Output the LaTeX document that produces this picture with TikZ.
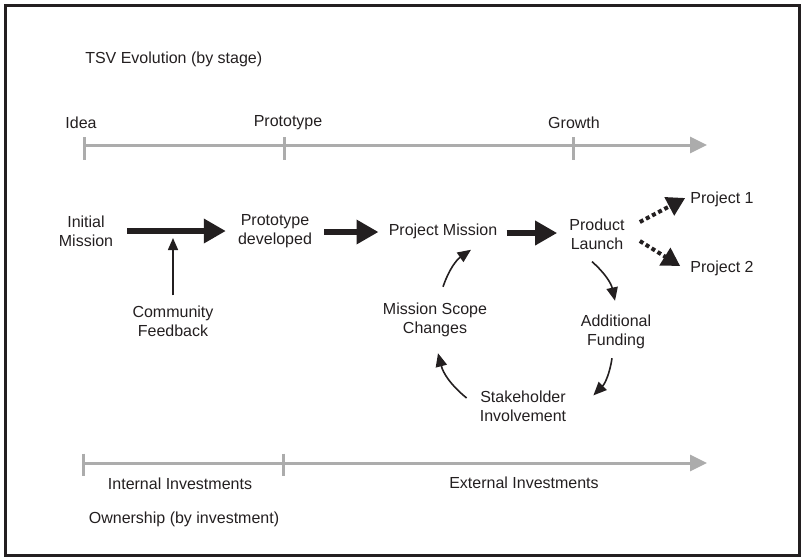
\documentclass[tikz,border=0pt]{standalone}
\usepackage{fontspec}
\setmainfont{Liberation Sans}
\usetikzlibrary{arrows.meta,calc}
\definecolor{tl}{RGB}{172,172,172}
\definecolor{ink}{RGB}{35,31,32}
\begin{document}
\begin{tikzpicture}[x=0.75pt,y=-0.75pt,
  lbl/.style={inner sep=0pt, align=center, font=\fontsize{12pt}{14.25pt}\selectfont, text=ink},
  bigarrow/.style={draw=ink, line width=4.5pt, -{Triangle[length=16.5pt,width=17.5pt]}},
  dotarrow/.style={draw=ink, line width=3pt, dash pattern=on 3pt off 2.2pt, -{Triangle[length=13.5pt,width=15pt]}},
  thinarrow/.style={draw=ink, line width=1.2pt, -{Triangle[length=9pt,width=7.5pt]}},
  cyclearrow/.style={draw=ink, line width=1.2pt, -{Triangle[length=10pt,width=8.5pt]}},
  timeline/.style={draw=tl, line width=2.25pt, -{Triangle[length=12.75pt,width=12pt]}},
  tick/.style={draw=tl, line width=2.25pt},
  frame/.style={draw=ink, line width=2.25pt}
]
\useasboundingbox (0,0) rectangle (805,558);
\draw[frame] (5,5.5) rectangle (799,555.5);

% top timeline
\node[lbl, anchor=west] (title) at (85,59) {TSV Evolution (by stage)};
\node[lbl] (idea) at (81,123) {Idea};
\node[lbl] (proto) at (288,123) {Prototype};
\node[lbl] (growth) at (574,123) {Growth};
\coordinate (t0) at (84,145);
\coordinate (t1) at (284,145);
\coordinate (t2) at (573,145);
\coordinate (tend) at (707,145);
\draw[timeline] (t0) -- (tend);
\foreach \c in {t0,t1,t2} \draw[tick] ([yshift=6pt]\c) -- ([yshift=-11pt]\c);

% main row
\node[lbl] (im) at (86,231) {Initial\\Mission};
\node[lbl] (pd) at (275,231) {Prototype\\developed};
\node[lbl] (pm) at (443,231) {Project Mission};
\node[lbl] (pl) at (597,234) {Product\\Launch};
\node[lbl] (p1) at (722,199) {Project 1};
\node[lbl] (p2) at (722,268) {Project 2};
\node[lbl] (cf) at (173,321) {Community\\Feedback};
\node[lbl] (ms) at (435,320) {Mission Scope\\Changes};
\node[lbl] (af) at (616,332) {Additional\\Funding};
\node[lbl] (si) at (523,406) {Stakeholder\\Involvement};

\draw[bigarrow] ($(im.east)+(14,0)$) -- ($(pd.west)+(-12,0)$);
\draw[bigarrow] ($(pd.east)+(12,1)$) -- ($(pm.west)+(-10,1)$);
\coordinate (plw) at (pl.west |- pm.east);
\draw[bigarrow] ($(pm.east)+(9,2)$) -- ($(plw)+(-12,2)$);

\coordinate (fbtop) at (cf.north |- im.east);
\draw[thinarrow] ($(cf.north)+(0,-10)$) -- ($(fbtop)+(0,7)$);

\draw[dotarrow] ($(pl.east)+(15,-12)$) -- ($(p1.west)+(-5,-1)$);
\draw[dotarrow] ($(pl.east)+(15,7)$) -- ($(p2.west)+(-10,-2)$);

% cycle
\draw[cyclearrow] ($(pl.south)+(-5,12)$) to[bend left=18] ($(af.north)+(-1,-14)$);
\draw[cyclearrow] ($(af.south)+(-4,9)$) to[bend left=18] ($(si.north east)+(27,5)$);
\draw[cyclearrow] ($(si.west)+(-13,-8)$) to[bend left=18] ($(ms.south)+(3,16)$);
\draw[cyclearrow] ($(ms.north)+(8,-16)$) to[bend left=18] ($(pm.south)+(28,11)$);

% bottom timeline
\coordinate (b0) at (83,463);
\coordinate (b1) at (283,463);
\coordinate (bend) at (707,463);
\draw[timeline] (b0) -- (bend);
\foreach \c in {b0,b1} \draw[tick] ([yshift=7pt]\c) -- ([yshift=-10pt]\c);
\node[lbl] (ii) at (180,484) {Internal Investments};
\node[lbl] (ei) at (524,483) {External Investments};
\node[lbl] (own) at (184,519) {Ownership (by investment)};
\end{tikzpicture}
\end{document}
